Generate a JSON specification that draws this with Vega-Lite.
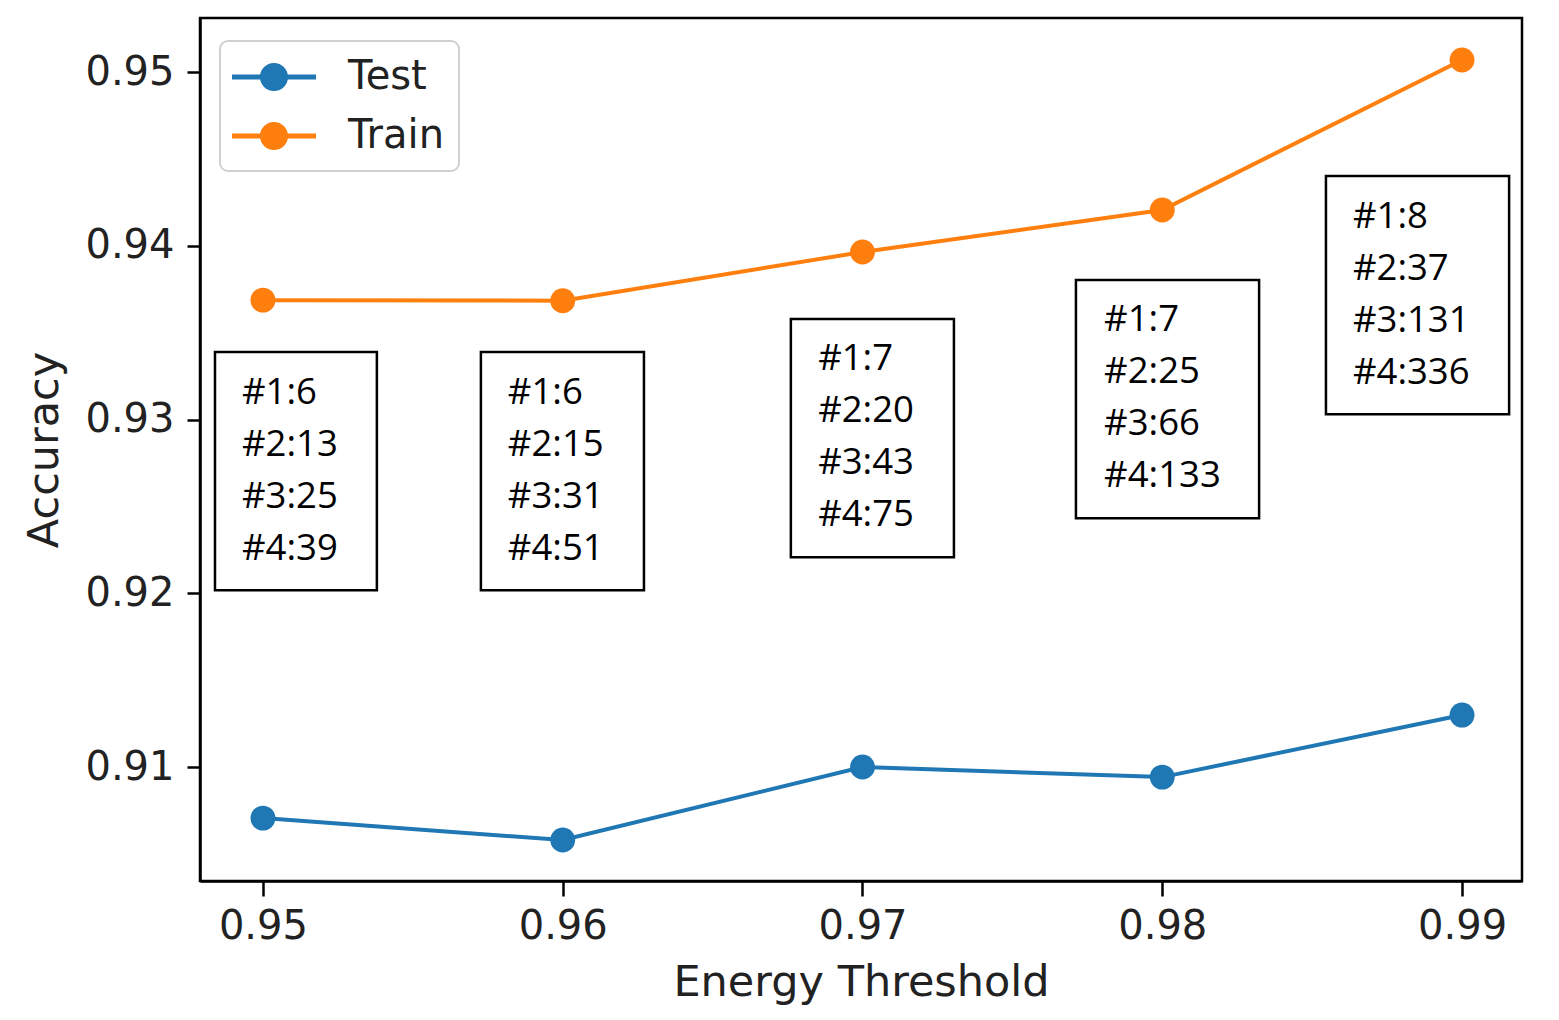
{
  "$schema": "https://vega.github.io/schema/vega-lite/v6.json",
  "width": 1322,
  "height": 863,
  "autosize": {"type": "none"},
  "padding": {"left": 200, "top": 18, "right": 37, "bottom": 139},
  "background": "white",
  "title": {
    "text": "Fashion-MNIST",
    "font": "DejaVu Sans",
    "fontSize": 44,
    "fontWeight": "normal",
    "color": "black",
    "baseline": "alphabetic",
    "offset": 16
  },
  "datasets": {
    "acc": [
      {"threshold": 0.95, "accuracy": 0.90706, "series": "Test"},
      {"threshold": 0.96, "accuracy": 0.90580, "series": "Test"},
      {"threshold": 0.97, "accuracy": 0.91000, "series": "Test"},
      {"threshold": 0.98, "accuracy": 0.90942, "series": "Test"},
      {"threshold": 0.99, "accuracy": 0.91299, "series": "Test"},
      {"threshold": 0.95, "accuracy": 0.93687, "series": "Train"},
      {"threshold": 0.96, "accuracy": 0.93684, "series": "Train"},
      {"threshold": 0.97, "accuracy": 0.93964, "series": "Train"},
      {"threshold": 0.98, "accuracy": 0.94206, "series": "Train"},
      {"threshold": 0.99, "accuracy": 0.95069, "series": "Train"}
    ],
    "boxes": [
      {"x1": 0.9484, "x2": 0.9538, "y1": 0.93388, "y2": 0.92018},
      {"x1": 0.95727, "x2": 0.96271, "y1": 0.93388, "y2": 0.92018},
      {"x1": 0.96761, "x2": 0.97305, "y1": 0.93578, "y2": 0.92208},
      {"x1": 0.97712, "x2": 0.98323, "y1": 0.93803, "y2": 0.92432},
      {"x1": 0.98546, "x2": 0.99157, "y1": 0.94401, "y2": 0.93031}
    ],
    "notes": [
      {"x": 0.9493, "y": 0.93152, "label": "#1:6"},
      {"x": 0.9493, "y": 0.92853, "label": "#2:13"},
      {"x": 0.9493, "y": 0.92553, "label": "#3:25"},
      {"x": 0.9493, "y": 0.92254, "label": "#4:39"},
      {"x": 0.95817, "y": 0.93152, "label": "#1:6"},
      {"x": 0.95817, "y": 0.92853, "label": "#2:15"},
      {"x": 0.95817, "y": 0.92553, "label": "#3:31"},
      {"x": 0.95817, "y": 0.92254, "label": "#4:51"},
      {"x": 0.96852, "y": 0.93348, "label": "#1:7"},
      {"x": 0.96852, "y": 0.93048, "label": "#2:20"},
      {"x": 0.96852, "y": 0.92749, "label": "#3:43"},
      {"x": 0.96852, "y": 0.92450, "label": "#4:75"},
      {"x": 0.97806, "y": 0.93572, "label": "#1:7"},
      {"x": 0.97806, "y": 0.93273, "label": "#2:25"},
      {"x": 0.97806, "y": 0.92973, "label": "#3:66"},
      {"x": 0.97806, "y": 0.92674, "label": "#4:133"},
      {"x": 0.98636, "y": 0.94165, "label": "#1:8"},
      {"x": 0.98636, "y": 0.93866, "label": "#2:37"},
      {"x": 0.98636, "y": 0.93566, "label": "#3:131"},
      {"x": 0.98636, "y": 0.93267, "label": "#4:336"}
    ]
  },
  "layer": [
    {
      "data": {"name": "boxes"},
      "mark": {"type": "rect", "fill": "white", "stroke": "black", "strokeWidth": 2.5},
      "encoding": {
        "x": {"field": "x1", "type": "quantitative", "scale": {"domain": [0.9479, 0.992], "nice": false, "zero": false}},
        "x2": {"field": "x2"},
        "y": {"field": "y1", "type": "quantitative", "scale": {"domain": [0.90344, 0.95311], "nice": false, "zero": false}},
        "y2": {"field": "y2"}
      }
    },
    {
      "data": {"name": "notes"},
      "mark": {"type": "text", "align": "left", "baseline": "middle", "font": "Open Sans", "fontSize": 36.5, "color": "black"},
      "encoding": {
        "x": {"field": "x", "type": "quantitative"},
        "y": {"field": "y", "type": "quantitative"},
        "text": {"field": "label"}
      }
    },
    {
      "data": {"name": "acc"},
      "mark": {"type": "line", "strokeWidth": 4},
      "encoding": {
        "x": {"field": "threshold", "type": "quantitative"},
        "y": {"field": "accuracy", "type": "quantitative"},
        "color": {"field": "series", "type": "nominal",
          "scale": {"domain": ["Test", "Train"], "range": ["#1f77b4", "#ff7f0e"]}}
      }
    },
    {
      "data": {"name": "acc"},
      "mark": {"type": "point", "filled": true, "size": 620, "opacity": 1},
      "encoding": {
        "x": {"field": "threshold", "type": "quantitative",
          "axis": {"values": [0.95, 0.96, 0.97, 0.98, 0.99], "format": ".2f", "title": "Energy Threshold", "labelPadding": 10, "titlePadding": 15, "tickSize": 15}},
        "y": {"field": "accuracy", "type": "quantitative",
          "axis": {"values": [0.91, 0.92, 0.93, 0.94, 0.95], "format": ".2f", "title": "Accuracy", "labelPadding": 13, "titlePadding": 18, "tickSize": 13}},
        "color": {"field": "series", "type": "nominal",
          "scale": {"domain": ["Test", "Train"], "range": ["#1f77b4", "#ff7f0e"]}}
      }
    }
  ],
  "config": {
    "view": {"stroke": "black", "strokeWidth": 2.5},
    "legend": {
      "title": null,
      "orient": "none",
      "legendX": 20,
      "legendY": 23,
      "symbolType": "M-2,-0.12H-0.5V0.12H-2Z M0.5,-0.12H2V0.12H0.5Z M-0.67,0A0.67,0.67 0 1,1 0.67,0A0.67,0.67 0 1,1 -0.67,0Z",
      "symbolSize": 1764,
      "symbolStrokeWidth": 0,
      "symbolOffset": 18,
      "labelOffset": 53,
      "labelFont": "DejaVu Sans",
      "labelFontSize": 40,
      "labelColor": "#222",
      "rowPadding": 18,
      "padding": 15,
      "fillColor": "white",
      "strokeColor": "#d0d0d0",
      "strokeWidth": 2,
      "cornerRadius": 8
    },
    "axis": {
      "grid": false,
      "domainColor": "black",
      "domainWidth": 2.5,
      "tickColor": "black",
      "tickWidth": 2.5,
      "labelFont": "DejaVu Sans",
      "labelFontSize": 40,
      "labelColor": "#222",
      "titleFont": "DejaVu Sans",
      "titleFontSize": 43,
      "titleFontWeight": "normal",
      "titleColor": "#222"
    }
  }
}
